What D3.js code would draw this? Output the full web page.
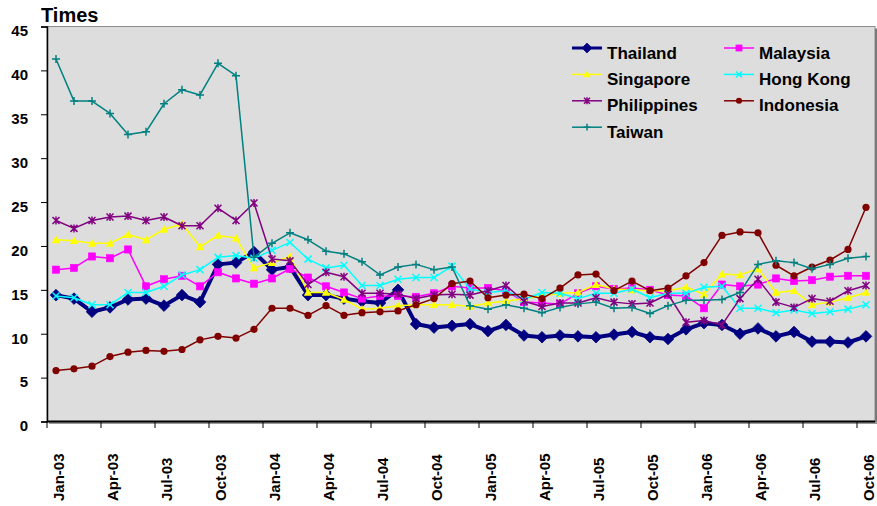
<!DOCTYPE html>
<html>
<head>
<meta charset="utf-8">
<script src="https://cdn.jsdelivr.net/npm/d3@7"></script>
<style>
  html, body { margin: 0; padding: 0; background: #ffffff; }
  svg { display: block; font-family: "Liberation Sans", Arial, sans-serif; }
</style>
</head>
<body>
<svg id="chart" width="877" height="506"></svg>
<script>
const months = ["Jan-03","Feb-03","Mar-03","Apr-03","May-03","Jun-03","Jul-03","Aug-03","Sep-03","Oct-03","Nov-03","Dec-03",
  "Jan-04","Feb-04","Mar-04","Apr-04","May-04","Jun-04","Jul-04","Aug-04","Sep-04","Oct-04","Nov-04","Dec-04",
  "Jan-05","Feb-05","Mar-05","Apr-05","May-05","Jun-05","Jul-05","Aug-05","Sep-05","Oct-05","Nov-05","Dec-05",
  "Jan-06","Feb-06","Mar-06","Apr-06","May-06","Jun-06","Jul-06","Aug-06","Sep-06","Oct-06"];
const tickLabels = ["Jan-03","Apr-03","Jul-03","Oct-03","Jan-04","Apr-04","Jul-04","Oct-04","Jan-05","Apr-05","Jul-05","Oct-05","Jan-06","Apr-06","Jul-06","Oct-06"];
const yTicks = [0,5,10,15,20,25,30,35,40,45];

const thailand = [14.4,14.0,12.5,13.0,13.9,14.0,13.2,14.4,13.6,17.9,18.1,19.3,17.3,17.6,14.4,14.4,14.0,13.7,13.5,15.0,11.1,10.7,10.9,11.1,10.3,11.0,9.8,9.6,9.8,9.7,9.6,9.9,10.2,9.6,9.4,10.5,11.2,11.0,10.0,10.6,9.7,10.2,9.1,9.1,9.0,9.7];
const malaysia = [17.3,17.5,18.8,18.6,19.6,15.4,16.2,16.6,15.4,17.0,16.3,15.7,16.3,17.4,16.4,15.4,14.7,14.0,14.3,14.3,14.2,14.6,15.4,15.2,15.2,14.9,13.6,13.5,13.4,14.6,15.4,15.1,15.2,15.0,14.4,14.3,12.9,15.6,15.4,15.6,16.3,16.0,16.1,16.5,16.6,16.6];
const singapore = [20.7,20.6,20.3,20.3,21.3,20.7,21.9,22.5,19.9,21.2,20.9,17.5,18.1,18.8,14.7,14.7,13.9,12.8,12.9,13.2,13.3,13.3,13.3,13.1,13.5,13.7,14.0,14.3,14.6,14.7,15.6,15.1,15.0,14.9,14.9,15.3,14.5,16.8,16.7,17.4,14.7,14.9,13.3,13.6,14.1,14.7];
const hongKong = [14.3,14.1,13.3,13.3,14.7,14.7,15.4,16.7,17.3,18.7,18.9,18.6,19.5,20.4,18.5,17.5,17.8,15.5,15.5,16.2,16.4,16.4,17.7,15.1,14.7,14.9,13.9,14.7,14.6,14.0,14.6,14.6,15.1,14.1,14.6,14.6,15.3,15.4,12.9,12.9,12.4,12.7,12.3,12.5,12.8,13.3];
const philippines = [22.9,22.0,22.9,23.3,23.4,22.9,23.3,22.3,22.3,24.3,22.9,24.9,18.5,18.3,15.6,17.0,16.5,14.6,14.6,14.5,14.0,14.4,14.5,14.4,14.9,15.5,13.7,13.1,13.5,13.5,14.1,13.6,13.4,13.5,14.5,11.3,11.5,11.0,14.0,16.2,13.6,13.0,14.0,13.7,14.9,15.5];
const indonesia = [5.8,6.0,6.3,7.4,7.9,8.1,8.0,8.2,9.3,9.7,9.5,10.5,12.9,12.9,12.1,13.2,12.1,12.4,12.5,12.6,13.3,14.0,15.7,16.0,14.1,14.4,14.5,14.0,15.2,16.7,16.8,14.9,16.0,14.9,15.2,16.6,18.1,21.2,21.6,21.5,17.8,16.6,17.6,18.4,19.6,24.4];
const taiwan = [41.3,36.5,36.5,35.1,32.7,33.0,36.2,37.8,37.2,40.8,39.4,18.7,20.3,21.5,20.7,19.4,19.1,18.2,16.7,17.6,17.9,17.3,17.6,13.2,12.8,13.3,12.9,12.4,13.0,13.4,13.6,12.9,13.0,12.3,13.2,13.8,13.8,13.9,14.7,17.9,18.3,18.1,17.4,17.9,18.6,18.8];

const seriesNames = ["Thailand","Malaysia","Singapore","Hong Kong","Philippines","Indonesia","Taiwan"];
const seriesValues = [thailand, malaysia, singapore, hongKong, philippines, indonesia, taiwan];

const styles = {
  "Thailand":    {color:"#000080", width:4,   marker:"diamond"},
  "Malaysia":    {color:"#FF00FF", width:1.5, marker:"square"},
  "Singapore":   {color:"#FFFF00", width:1.5, marker:"triangle"},
  "Hong Kong":   {color:"#00FFFF", width:1.5, marker:"x"},
  "Philippines": {color:"#800080", width:1.5, marker:"star"},
  "Indonesia":   {color:"#800000", width:1.5, marker:"circle"},
  "Taiwan":      {color:"#008080", width:1.5, marker:"plus"}
};

const svg = d3.select("#chart");
const L = 47, R = 875, T = 26.5, B = 421.5;

const x = d3.scaleBand().domain(months).range([L, R]).paddingInner(0).paddingOuter(0);
const y = d3.scaleLinear().domain([0, 45]).range([B, T]);

// plot background & frame
svg.append("rect").attr("x", L).attr("y", T).attr("width", R - L).attr("height", B - T)
  .attr("fill", "#DDDDDD").attr("stroke", "#8c8c8c").attr("stroke-width", 1);
svg.append("line").attr("x1", R + 1).attr("x2", R + 1).attr("y1", T + 2).attr("y2", B + 2)
  .attr("stroke", "#7a7a7a").attr("stroke-width", 2);
svg.append("line").attr("x1", L + 2).attr("x2", R + 2).attr("y1", B + 1.5).attr("y2", B + 1.5)
  .attr("stroke", "#9a9a9a").attr("stroke-width", 2);

// Y axis
const yAxis = d3.axisLeft(y).tickValues(yTicks).tickSize(6).tickPadding(13).tickFormat(d3.format("d"));
const gy = svg.append("g").attr("transform", `translate(${L},0)`).call(yAxis);
gy.select(".domain").attr("stroke", "#000").attr("stroke-width", 1.5);
gy.selectAll(".tick line").attr("stroke", "#000").attr("stroke-width", 1);
gy.selectAll(".tick text").attr("fill", "#000").attr("font-size", 15).attr("font-weight", "bold")
  .attr("font-family", "Liberation Sans, Arial, sans-serif").attr("dy", "0.62em");

// X axis
const boundaryIdx = d3.range(0, months.length, 3);
const gx = svg.append("g");
gx.append("line").attr("x1", L).attr("x2", R).attr("y1", B).attr("y2", B)
  .attr("stroke", "#000").attr("stroke-width", 2);
gx.selectAll("line.xt").data(boundaryIdx).join("line").attr("class", "xt")
  .attr("x1", i => x(months[i])).attr("x2", i => x(months[i]))
  .attr("y1", B).attr("y2", B + 6.5).attr("stroke", "#000").attr("stroke-width", 1);
gx.selectAll("text.xl").data(tickLabels).join("text").attr("class", "xl")
  .attr("transform", d => `translate(${x(d) + x.bandwidth() / 2 + 8},501) rotate(-90)`)
  .attr("text-anchor", "start").attr("font-size", 15).attr("font-weight", "bold")
  .attr("fill", "#000").text(d => d);

// Title
svg.append("text").attr("x", 41).attr("y", 21.5).attr("font-size", 20).attr("font-weight", "bold")
  .attr("fill", "#000").text("Times");

function drawMarker(g, type, color, s) {
  const k = s || 1;
  if (type === "diamond") {
    const h = 5.8 * k;
    g.append("path").attr("d", `M0,${-h}L${h},0L0,${h}L${-h},0Z`).attr("fill", color).attr("stroke", color).attr("stroke-width", 0.8);
  } else if (type === "square") {
    const h = 3.6 * k;
    g.append("rect").attr("x", -h).attr("y", -h).attr("width", 2 * h).attr("height", 2 * h)
      .attr("fill", color).attr("stroke", color).attr("stroke-width", 0.6);
  } else if (type === "triangle") {
    const h = 4.2 * k;
    g.append("path").attr("d", `M0,${-h}L${h},${h * 0.8}L${-h},${h * 0.8}Z`).attr("fill", color);
  } else if (type === "circle") {
    g.append("circle").attr("r", 3.6 * k).attr("fill", color);
  } else if (type === "x") {
    const h = 3.5 * k;
    g.append("path").attr("d", `M${-h},${-h}L${h},${h}M${-h},${h}L${h},${-h}`).attr("stroke", color).attr("stroke-width", 1.5);
  } else if (type === "star") {
    const h = 3.5 * k;
    g.append("path").attr("d", `M${-h},${-h}L${h},${h}M${-h},${h}L${h},${-h}M0,${-h - 0.5}L0,${h + 0.5}`).attr("stroke", color).attr("stroke-width", 1.5);
  } else if (type === "plus") {
    const h = 4 * k;
    g.append("path").attr("d", `M${-h},0L${h},0M0,${-h}L0,${h}`).attr("stroke", color).attr("stroke-width", 1.5);
  }
}

const line = d3.line().x((d, i) => x(months[i]) + x.bandwidth() / 2).y(d => y(d));

seriesNames.forEach((name, si) => {
  const st = styles[name];
  const vals = seriesValues[si];
  const g = svg.append("g").attr("class", "series");
  g.append("path").datum(vals).attr("d", line).attr("fill", "none")
    .attr("stroke", st.color).attr("stroke-width", st.width).attr("stroke-linejoin", "round");
  vals.forEach((v, i) => {
    const mg = g.append("g").attr("transform", `translate(${x(months[i]) + x.bandwidth() / 2},${y(v)})`);
    drawMarker(mg, st.marker, st.color, 1);
  });
});

// Legend
const legendPos = [
  {name:"Thailand", col:0, row:0}, {name:"Malaysia", col:1, row:0},
  {name:"Singapore", col:0, row:1}, {name:"Hong Kong", col:1, row:1},
  {name:"Philippines", col:0, row:2}, {name:"Indonesia", col:1, row:2},
  {name:"Taiwan", col:0, row:3}
];
const colX = [572, 724];
legendPos.forEach(p => {
  const st = styles[p.name];
  const ly = 48 + p.row * 26.4;
  const lx = colX[p.col];
  const g = svg.append("g");
  g.append("line").attr("x1", lx).attr("x2", lx + 30).attr("y1", ly).attr("y2", ly)
    .attr("stroke", st.color).attr("stroke-width", p.name === "Thailand" ? 3 : 1.5);
  const mg = g.append("g").attr("transform", `translate(${lx + 15},${ly})`);
  drawMarker(mg, st.marker, st.color, p.name === "Thailand" ? 0.85 : 0.85);
  g.append("text").attr("x", lx + 35).attr("y", ly + 10.5).attr("font-size", 17)
    .attr("font-weight", "bold").attr("fill", "#000").text(p.name);
});
</script>
</body>
</html>
